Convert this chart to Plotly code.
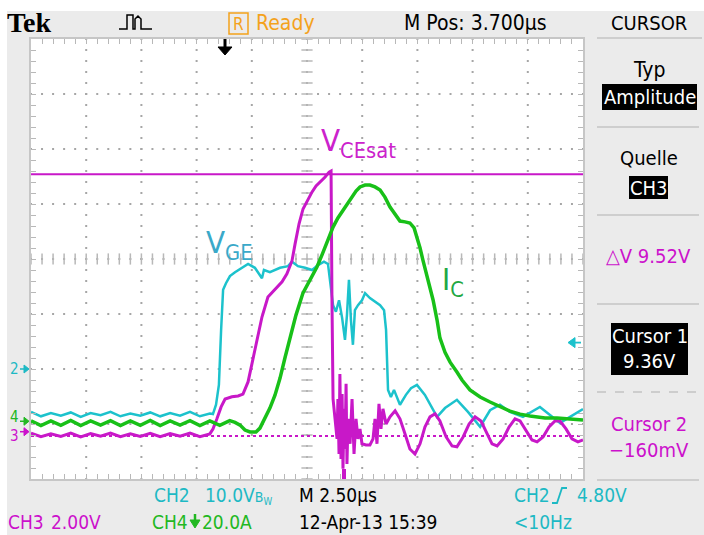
import plotly.graph_objects as go

W, H = 704, 535
PL, PR, PT, PB = 31, 583, 39, 479          # graticule edges (pixels)

# ---- scope settings -------------------------------------------------------
TIME_PER_DIV = 2.5                          # µs / div
CH2_SCALE, CH2_GND = 10.0, -2.00            # V/div, ground marker (div)
CH3_SCALE, CH3_GND = 2.0, -3.14
CH4_SCALE, CH4_GND = 20.0, -2.95
CURSOR1_V, CURSOR2_V = 9.36, -0.16          # CH3 cursors (V)
CH2_TRIG_V = 4.80

# ---- waveform data (time µs from left edge, value in channel units) -------
# CH2: V_GE (V)
vge = [(0, -7.8), (0.45, -8.6), (0.9, -8.0), (1.35, -8.5), (1.8, -7.9), (2.25, -8.7),
       (2.7, -8.0), (3.15, -8.4), (3.6, -7.8), (4.05, -8.6), (4.5, -8.1), (4.95, -8.5),
       (5.4, -7.9), (5.85, -8.6), (6.3, -8.0), (6.75, -8.5), (7.2, -7.8), (7.65, -8.6),
       (8.1, -8.1), (8.24, -8.2), (8.38, -6.5), (8.51, -2.9), (8.61, 7.1), (8.70, 14.4),
       (8.83, 15.6), (9.01, 16.9), (9.24, 17.6), (9.56, 18.4), (9.83, 19.1), (10.14, 18.4),
       (10.46, 16.5), (10.55, 18.0), (10.82, 17.6), (11.28, 18.4), (11.64, 18.7), (11.82, 19.5),
       (12.09, 18.7), (12.41, 18.4), (12.73, 18.0), (13.00, 18.9), (13.27, 19.5), (13.45, 19.1),
       (13.59, 14.4), (13.68, 11.6), (13.81, 10.4), (13.95, 12.5), (14.09, 9.3), (14.22, 5.3),
       (14.31, 9.8), (14.40, 16.2), (14.49, 8.9), (14.58, 4.4), (14.67, 10.7), (14.81, 11.6),
       (14.99, 12.5), (15.13, 13.8), (15.35, 12.9), (15.58, 12.2), (15.81, 11.6), (15.99, 10.7),
       (16.08, 7.1), (16.17, -3.8), (16.30, -5.1), (16.44, -3.8), (16.71, -6.5), (16.98, -4.7),
       (17.21, -3.5), (17.48, -2.9), (17.84, -4.7), (18.39, -8.7), (18.75, -7.1), (19.29, -5.6),
       (19.79, -7.8), (20.34, -10.5), (20.79, -7.5), (21.24, -6.5), (21.69, -7.8), (22.28, -8.7),
       (23.05, -6.9), (23.96, -9.8), (24.86, -7.5), (25.00, -7.3)]

# CH3: V_CE (V)
vce = [(0, -0.05), (0.45, -0.18), (0.9, -0.08), (1.35, -0.17), (1.8, -0.05), (2.25, -0.19),
       (2.7, -0.07), (3.15, -0.16), (3.6, -0.05), (4.05, -0.18), (4.5, -0.08), (4.95, -0.17),
       (5.4, -0.06), (5.85, -0.18), (6.3, -0.07), (6.75, -0.16), (7.2, -0.05), (7.65, -0.18),
       (8.1, -0.08), (8.24, 0.10), (8.42, 0.47), (8.61, 0.90), (8.79, 1.19), (9.10, 1.27),
       (9.38, 1.30), (9.60, 1.37), (9.83, 1.81), (10.05, 2.65), (10.24, 3.37), (10.46, 4.17),
       (10.73, 4.90), (11.05, 5.19), (11.37, 5.45), (11.59, 5.74), (11.82, 6.21), (11.96, 6.83),
       (12.14, 7.56), (12.32, 8.10), (12.55, 8.47), (12.73, 8.72), (12.91, 8.94), (13.09, 9.08),
       (13.32, 9.26), (13.50, 9.44), (13.59, 9.48), (13.63, 4.83), (13.68, 1.19), (13.77, 0.47),
       (13.86, -0.26), (13.90, 1.19), (13.95, -0.81), (13.99, 2.10), (14.04, -0.99), (14.09, 1.37),
       (14.13, -1.35), (14.18, 0.83), (14.22, -0.63), (14.27, 1.74), (14.31, -1.17), (14.36, 0.47),
       (14.45, -0.44), (14.54, 1.19), (14.63, -0.81), (14.72, 0.47), (14.81, -0.26), (14.90, 0.10),
       (14.99, -0.44), (15.17, -0.48), (15.35, -0.48), (15.49, -0.26), (15.58, 0.47), (15.67, -0.44),
       (15.76, 1.01), (15.85, 0.10), (15.94, 0.83), (16.08, 0.28), (16.26, 0.54), (16.49, 0.76),
       (16.71, 0.47), (16.94, -0.08), (17.16, -0.63), (17.39, -0.81), (17.62, -0.44), (17.84, 0.17),
       (18.07, 0.54), (18.30, 0.65), (18.52, 0.39), (18.80, -0.19), (19.07, -0.52), (19.29, -0.55),
       (19.57, -0.19), (19.84, 0.28), (20.11, 0.54), (20.38, 0.39), (20.65, -0.08), (20.88, -0.44),
       (21.11, -0.52), (21.38, -0.26), (21.65, 0.17), (21.92, 0.47), (22.15, 0.39), (22.42, 0.03),
       (22.69, -0.30), (22.92, -0.37), (23.19, -0.19), (23.46, 0.17), (23.73, 0.39), (23.96, 0.39),
       (24.23, 0.10), (24.50, -0.26), (24.77, -0.37), (25.00, -0.30)]

# CH4: I_C (A)
ic = [(0, 0.2), (0.45, -1.6), (0.9, 0.1), (1.35, -1.5), (1.8, 0.3), (2.25, -1.6), (2.7, 0.1),
      (3.15, -1.4), (3.6, 0.2), (4.05, -1.6), (4.5, 0.1), (4.95, -1.5), (5.4, 0.3), (5.85, -1.6),
      (6.3, 0.1), (6.75, -1.4), (7.2, 0.2), (7.65, -1.6), (8.1, 0.1), (8.55, -1.5), (9.0, 0.2),
      (9.24, -0.4), (9.47, -1.4), (9.69, -3.2), (9.92, -3.9), (10.19, -3.9), (10.37, -2.5),
      (10.60, 1.2), (10.82, 4.8), (11.05, 9.5), (11.28, 15.7), (11.50, 23.0), (11.73, 30.3),
      (12.00, 38.6), (12.32, 46.7), (12.64, 51.4), (12.95, 56.1), (13.18, 60.5), (13.41, 64.8),
      (13.68, 70.6), (13.90, 73.9), (14.13, 76.8), (14.36, 79.7), (14.54, 81.5), (14.72, 83.7),
      (14.90, 85.2), (15.13, 85.9), (15.35, 85.9), (15.58, 85.2), (15.81, 84.1), (16.03, 81.5),
      (16.26, 77.9), (16.49, 75.0), (16.71, 72.8), (16.94, 72.5), (17.16, 72.1), (17.35, 70.3),
      (17.48, 67.0), (17.62, 63.0), (17.75, 58.6), (17.98, 51.4), (18.21, 44.1), (18.39, 36.8),
      (18.52, 30.3), (18.75, 25.1), (18.98, 21.5), (19.29, 17.9), (19.52, 15.0), (19.88, 11.4),
      (20.34, 8.8), (20.79, 7.0), (21.24, 5.2), (21.69, 3.7), (22.15, 2.6), (22.60, 1.9),
      (23.28, 1.2), (23.82, 1.2), (24.41, 0.8), (25.00, 0.5)]

# ---- helpers ---------------------------------------------------------------
def ax(px):
    return (px - PL) / (PR - PL)


def ay(py):
    return (PB - py) / (PB - PT)


def ch_range(scale, gnd):
    return [(-4 - gnd) * scale, (4 - gnd) * scale]


def gnd_px(gnd_div):
    return (PT + PB) / 2 - gnd_div * (PB - PT) / 8


FONT = "Liberation Sans Narrow, DejaVu Sans Condensed, Arial Narrow, sans-serif"
CYAN, MAG, GRN, ORANGE = "#1cc2cc", "#c818c8", "#18c018", "#f4a21c"
CYAN_TXT, MAG_TXT, GRN_TXT = "#1db9c4", "#cc11cc", "#22b822"
FS = 20

fig = go.Figure()

# ---- graticule dots and centre-cross ticks --------------------------------
full_w = 10 * TIME_PER_DIV
dx, dy = [], []
for k in range(1, 10):
    for j in range(41):
        dx.append(k * TIME_PER_DIV); dy.append(-4 + j * 0.2)
for k in range(-3, 4):
    for j in range(51):
        dx.append(j * TIME_PER_DIV / 5); dy.append(k)
fig.add_trace(go.Scatter(x=dx, y=dy, mode="markers", hoverinfo="skip",
                         marker=dict(symbol="square", size=2, color="#a6a6a6", line=dict(width=0))))
fig.add_trace(go.Scatter(x=[full_w / 2] * 41, y=[-4 + j * 0.2 for j in range(41)], mode="markers",
                         hoverinfo="skip",
                         marker=dict(symbol="line-ew", size=8, line=dict(width=1.5, color="#b8b8b8"))))
fig.add_trace(go.Scatter(x=[j * TIME_PER_DIV / 5 for j in range(51)], y=[0] * 51, mode="markers",
                         hoverinfo="skip",
                         marker=dict(symbol="line-ns", size=8, line=dict(width=1.5, color="#b8b8b8"))))

# ---- cursors (CH3) ---------------------------------------------------------
fig.add_trace(go.Scatter(x=[0, full_w], y=[CURSOR1_V] * 2, yaxis="y3", mode="lines",
                         line=dict(color=MAG, width=2), hoverinfo="skip"))
fig.add_trace(go.Scatter(x=[0, full_w], y=[CURSOR2_V] * 2, yaxis="y3", mode="lines",
                         line=dict(color=MAG, width=2, dash="dot"), hoverinfo="skip"))

# ---- waveforms -------------------------------------------------------------
t, v = zip(*vge)
fig.add_trace(go.Scatter(x=t, y=v, yaxis="y2", mode="lines", line=dict(color=CYAN, width=2.5)))
t, v = zip(*ic)
fig.add_trace(go.Scatter(x=t, y=v, yaxis="y4", mode="lines", line=dict(color=GRN, width=3.5)))
t, v = zip(*vce)
fig.add_trace(go.Scatter(x=t, y=v, yaxis="y3", mode="lines", line=dict(color=MAG, width=3)))

# ---- annotations -----------------------------------------------------------
ann = []


def txt(s, px, py, color="black", size=FS, family=FONT, xanchor="left"):
    ann.append(dict(text=s, x=ax(px), y=ay(py), xref="paper", yref="paper", showarrow=False,
                    xanchor=xanchor, yanchor="middle", borderpad=0,
                    font=dict(color=color, size=size, family=family)))


shapes = []


def rect(x0, y0, x1, y1, fill, line=None, lw=0):
    shapes.append(dict(type="rect", xref="paper", yref="paper", x0=ax(x0), x1=ax(x1),
                       y0=ay(y0), y1=ay(y1), fillcolor=fill, layer="below",
                       line=dict(color=line or fill, width=lw)))


def hline(x0, x1, y, color="#c4c4c4", w=1.5, dash="solid"):
    shapes.append(dict(type="line", xref="paper", yref="paper", x0=ax(x0), x1=ax(x1),
                       y0=ay(y), y1=ay(y), line=dict(color=color, width=w, dash=dash)))


def path(pts, color, w=1.5, fill=None, closed=False):
    d = "M " + " L ".join(f"{ax(x):.5f},{ay(y):.5f}" for x, y in pts)
    if closed:
        d += " Z"
    shapes.append(dict(type="path", xref="paper", yref="paper", path=d,
                       line=dict(color=color, width=w), fillcolor=fill or "rgba(0,0,0,0)"))


# white outer border strips
rect(0, 0, W, 11, "white")
rect(0, 0, 7, H, "white")

# top bar
txt("<b>Tek</b>", 6, 23, "black", 28, "Liberation Serif, DejaVu Serif, serif")
path([(119, 29), (127, 29), (127, 15), (133, 15), (133, 29), (135, 29), (135, 19), (138, 16),
      (141, 19), (141, 29), (152, 29)], "black", 1.5)
rect(229, 13, 248, 34, "rgba(0,0,0,0)", ORANGE, 1.5)
txt("R", 238.5, 23.5, ORANGE, 17, xanchor="center")
txt("Ready", 255, 23, ORANGE, 21)
txt("M Pos: 3.700µs", 403, 23, "black", 21)
txt("CURSOR", 649, 23, "black", FS, xanchor="center")
hline(597, 702, 38)

# trigger position arrow (top)
path([(225, 39), (225, 48)], "black", 3)
path([(218, 47), (232, 47), (225, 55)], "black", 1, "black", True)

# right panel
txt("Typ", 649, 70, "black", 21, xanchor="center")
rect(602, 84, 697, 110, "black")
txt("Amplitude", 649.5, 97, "white", FS, xanchor="center")
hline(597, 699, 127)
txt("Quelle", 649, 158, "black", FS, xanchor="center")
rect(629, 176, 668, 199, "black")
txt("CH3", 648.5, 188, "white", FS, xanchor="center")
hline(597, 699, 215)
txt("△V 9.52V", 648, 256, MAG_TXT, FS, xanchor="center")
hline(597, 699, 304)
rect(611, 323, 688, 375, "black")
txt("Cursor 1", 649.5, 336, "white", FS, xanchor="center")
txt("9.36V", 649.5, 361, "white", FS, xanchor="center")
hline(597, 699, 392, dash="dash")
txt("Cursor 2", 649, 424, MAG_TXT, FS, xanchor="center")
txt("−160mV", 649, 450, MAG_TXT, FS, xanchor="center")
hline(597, 699, 480)

# bottom status lines
BS = 19
txt("CH2", 153, 495, CYAN_TXT, BS)
txt("10.0V<span style='font-size:14px'>B<sub>W</sub></span>", 204, 495, CYAN_TXT, BS)
txt("M 2.50µs", 298, 495, "black", BS)
txt("CH2", 513, 495, CYAN_TXT, BS)
path([(552, 503), (557, 503), (562, 488), (567, 488)], CYAN_TXT, 1.8)
txt("4.80V", 576, 495, CYAN_TXT, BS)
txt("CH3", 7, 522, MAG_TXT, BS)
txt("2.00V", 50, 522, MAG_TXT, BS)
txt("CH4", 151, 522, GRN_TXT, BS)
path([(195, 514), (195, 522)], GRN_TXT, 2.5)
path([(190, 520), (200, 520), (195, 528)], GRN_TXT, 1, GRN_TXT, True)
txt("20.0A", 201, 522, GRN_TXT, BS)
txt("12-Apr-13 15:39", 298, 522, "black", BS)
txt("<10Hz", 513, 522, CYAN_TXT, BS)

# channel ground markers (left)
for label, gnd, col, dy_txt in (("2", CH2_GND, CYAN_TXT, 0), ("4", CH4_GND, GRN_TXT, -4),
                                 ("3", CH3_GND, MAG_TXT, 4)):
    py = gnd_px(gnd)
    txt(label, 14, py + dy_txt, col, 15, xanchor="center")
    path([(20, py), (27, py)], col, 1.5)
    path([(24, py - 4), (29, py), (24, py + 4)], col, 1, col, True)

# CH2 trigger level marker (right)
ty = gnd_px(CH2_GND + CH2_TRIG_V / CH2_SCALE)
path([(571, ty), (581, ty)], CYAN, 1.8)
path([(575, ty - 5), (568, ty), (575, ty + 5)], CYAN, 1, CYAN, True)

# bottom magenta position marker
rect(342, 469, 346, 479, MAG)
shapes[-1]["layer"] = "above"

# trace labels
txt("V<sub>CEsat</sub>", 320, 142, "#cc22cc", 31)
txt("V<sub>GE</sub>", 205, 245, "#3aa9c9", 31)
txt("I<sub>C</sub>", 441, 281, "#1fa844", 31)

axis_common = dict(showgrid=False, zeroline=False, showticklabels=False, ticks="inside",
                   ticklen=5, tickwidth=1, tickcolor="#b8b8b8", showline=True,
                   linecolor="#c6c6c6", linewidth=2, mirror="ticks", fixedrange=True)

fig.update_layout(
    width=W, height=H, autosize=False,
    margin=dict(l=PL, r=W - PR, t=PT, b=H - PB, pad=0),
    paper_bgcolor="#ebebeb", plot_bgcolor="white", showlegend=False,
    xaxis=dict(range=[0, full_w], dtick=TIME_PER_DIV / 5, tick0=0, **axis_common),
    yaxis=dict(range=[-4, 4], dtick=0.2, tick0=0, **axis_common),
    yaxis2=dict(range=ch_range(CH2_SCALE, CH2_GND), overlaying="y", visible=False, fixedrange=True),
    yaxis3=dict(range=ch_range(CH3_SCALE, CH3_GND), overlaying="y", visible=False, fixedrange=True),
    yaxis4=dict(range=ch_range(CH4_SCALE, CH4_GND), overlaying="y", visible=False, fixedrange=True),
    annotations=ann, shapes=shapes,
)

fig.write_html("out.html", config={"displayModeBar": False},
               post_script="document.body.style.margin='0';document.body.style.overflow='hidden';")
